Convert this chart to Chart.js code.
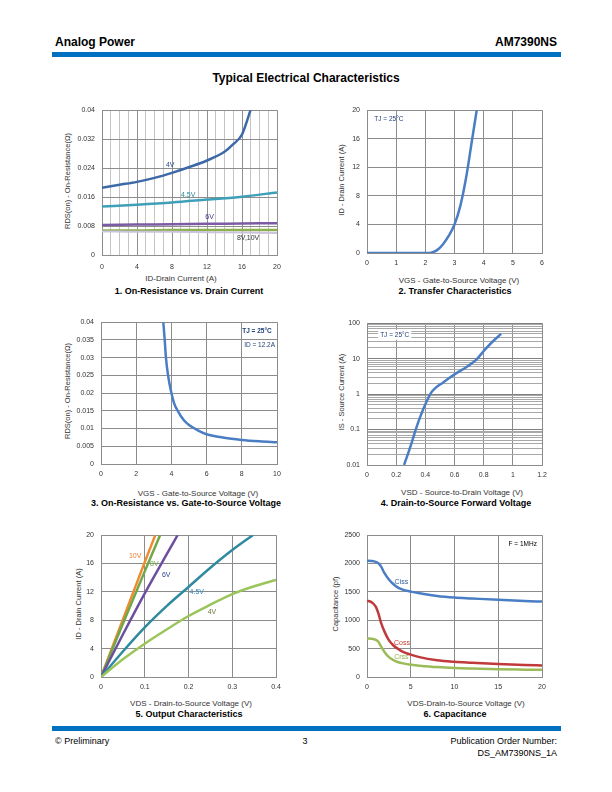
<!DOCTYPE html>
<html>
<head>
<meta charset="utf-8">
<script src="https://cdn.jsdelivr.net/npm/chart.js@4.4.0/dist/chart.umd.min.js"></script>
<style>
  body { margin:0; width:612px; height:792px; position:relative; background:#fff; font-family:"Liberation Sans", Arial, sans-serif; color:#000; overflow:hidden; }
  .t { position:absolute; white-space:nowrap; transform:translate(-50%,-50%); }
  .l { position:absolute; white-space:nowrap; transform:translate(0,-50%); }
  .r { position:absolute; white-space:nowrap; transform:translate(-100%,-50%); }
  .v { position:absolute; white-space:nowrap; transform:translate(-50%,-50%) rotate(-90deg); font-size:7.5px; color:#333; }
  .ax { font-size:8px; color:#333; }
  .cap { font-size:9px; font-weight:bold; }
  .bar { position:absolute; background:#0070c0; }
  canvas { position:absolute; }
</style>
</head>
<body>
<div class="l" style="left:55px;top:42px;font-size:12px;font-weight:bold">Analog Power</div>
<div class="r" style="left:557px;top:42px;font-size:12px;font-weight:bold">AM7390NS</div>
<div class="bar" style="left:52px;top:52px;width:509px;height:5px"></div>
<div class="t" style="left:306px;top:78px;font-size:12px;font-weight:bold">Typical Electrical Characteristics</div>

<div class="v" style="left:67px;top:181px">RDS(on) - On-Resistance(Ω)</div>
<div class="t ax" style="left:181px;top:278px">ID-Drain Current (A)</div>
<div class="t cap" style="left:189px;top:291px">1. On-Resistance vs. Drain Current</div>

<div class="v" style="left:341px;top:180px">ID - Drain Current (A)</div>
<div class="t ax" style="left:459px;top:280px">VGS - Gate-to-Source Voltage (V)</div>
<div class="t cap" style="left:455px;top:291px">2. Transfer Characteristics</div>

<div class="v" style="left:67px;top:391px">RDS(on) - On-Resistance(Ω)</div>
<div class="t ax" style="left:198px;top:493px">VGS - Gate-to-Source Voltage (V)</div>
<div class="t cap" style="left:186px;top:503px">3. On-Resistance vs. Gate-to-Source Voltage</div>

<div class="v" style="left:341px;top:392px">IS - Source Current (A)</div>
<div class="t ax" style="left:462px;top:492px">VSD - Source-to-Drain Voltage (V)</div>
<div class="t cap" style="left:456px;top:503px">4. Drain-to-Source Forward Voltage</div>

<div class="v" style="left:78px;top:604px">ID - Drain Current (A)</div>
<div class="t ax" style="left:191px;top:703px">VDS - Drain-to-Source Voltage (V)</div>
<div class="t cap" style="left:189px;top:714px">5. Output Characteristics</div>

<div class="v" style="left:335px;top:604px">Capacitance (pf)</div>
<div class="t ax" style="left:466px;top:703px">VDS-Drain-to-Source Voltage (V)</div>
<div class="t cap" style="left:455px;top:714px">6. Capacitance</div>

<div class="bar" style="left:52px;top:726px;width:509px;height:5px"></div>
<div class="l" style="left:55px;top:741px;font-size:9px">© Preliminary</div>
<div class="t" style="left:305px;top:741px;font-size:9px">3</div>
<div class="r" style="left:557px;top:741px;font-size:9px">Publication Order Number:</div>
<div class="r" style="left:557px;top:753px;font-size:9px">DS_AM7390NS_1A</div>

<script>
// 1. On-resistance vs drain current
const id1 = [0, 2, 4, 6, 8, 10, 12, 14, 15, 16, 17];
const rds4V = [0.0186, 0.0194, 0.0202, 0.0213, 0.0227, 0.0243, 0.0261, 0.0285, 0.0306, 0.0333, 0.0402];
const id1b = [0, 4, 8, 12, 16, 20];
const rds45V = [0.0134, 0.0139, 0.0145, 0.0153, 0.0161, 0.0173];
const rds6V = [0.0083, 0.0084, 0.0085, 0.0086, 0.0087, 0.0088];
const rds8V = [0.0068, 0.0068, 0.0069, 0.0069, 0.0069, 0.0069];
const rds10V = [0.0065, 0.0064, 0.0064, 0.0063, 0.0062, 0.0061];

// 2. Transfer characteristics
const vgs2 = [0, 1, 2, 2.2, 2.4, 2.6, 2.8, 3.0, 3.2, 3.4, 3.6, 3.8];
const id2 = [0, 0, 0, 0.05, 0.4, 1.2, 2.4, 4.0, 6.6, 10.6, 15.8, 21];

// 3. On-resistance vs gate-to-source voltage
const vgs3 = [3.54, 3.62, 3.69, 3.81, 3.98, 4.15, 4.36, 4.7, 5.0, 5.5, 6, 7, 8, 9, 10];
const rds3 = [0.040, 0.035, 0.030, 0.025, 0.0205, 0.0172, 0.0150, 0.0124, 0.0110, 0.0095, 0.0084, 0.0074, 0.0068, 0.0064, 0.0061];

// 4. Forward voltage
const vsd4 = [0.254, 0.3, 0.334, 0.37, 0.407, 0.44, 0.47, 0.52, 0.6, 0.69, 0.75, 0.807, 0.86, 0.92];
const is4 = [0.01, 0.035, 0.1, 0.26, 0.6, 1.1, 1.5, 2.1, 3.6, 6.1, 9.4, 17.6, 30, 50];
const decades = [0.01, 0.1, 1, 10];
const logTicks = decades.flatMap(d => [1, 2, 3, 4, 5, 6, 7, 8, 9].map(k => +(d * k).toPrecision(2))).concat([100]);

// 5. Output characteristics
const vds10V = [0, 0.05, 0.1, 0.124], out10V = [0, 8.1, 16.2, 20];
const vds8V = [0, 0.05, 0.1, 0.135], out8V = [0, 7.5, 14.9, 20];
const vds6V = [0, 0.05, 0.1, 0.15, 0.175], out6V = [0, 6.0, 11.8, 17.3, 20];
const vds45V = [0, 0.05, 0.1, 0.15, 0.2, 0.25, 0.3, 0.347], out45V = [0, 3.6, 7.0, 10.0, 12.7, 15.4, 17.9, 20];
const vds4V = [0, 0.05, 0.1, 0.15, 0.2, 0.25, 0.3, 0.35, 0.4], out4V = [0, 2.5, 4.7, 6.7, 8.6, 10.2, 11.7, 12.8, 13.7];

// 6. Capacitance
const vds6 = [0, 0.5, 1, 1.3, 1.6, 2, 2.5, 3, 3.5, 4, 5, 6, 8, 10, 12, 15, 18, 20];
const ciss = [2050, 2045, 2030, 2005, 1950, 1830, 1720, 1640, 1580, 1545, 1505, 1475, 1430, 1402, 1385, 1360, 1340, 1330];
const coss = [1345, 1320, 1240, 1120, 960, 800, 650, 560, 500, 450, 395, 350, 295, 268, 252, 230, 212, 203];
const crss = [680, 675, 655, 620, 540, 440, 350, 300, 265, 245, 215, 200, 175, 158, 148, 137, 130, 126];

const FAM = '"Liberation Sans", Arial, sans-serif';
const GRID = '#8c8c8c';

Chart.register({
  id: 'notes',
  afterDatasetsDraw(chart, args, opts) {
    const c = chart.ctx;
    (opts.items || []).forEach(n => {
      const px = chart.scales.x.getPixelForValue(n.x);
      const py = chart.scales.y.getPixelForValue(n.y);
      c.save();
      c.font = (n.bold ? 'bold ' : '') + (n.size || 7) + 'px ' + FAM;
      c.textAlign = 'center';
      c.textBaseline = 'middle';
      if (n.bg) {
        const w = c.measureText(n.text).width;
        c.fillStyle = '#fff';
        c.fillRect(px - w / 2 - 2, py - 5, w + 4, 10);
      }
      c.fillStyle = n.color;
      c.fillText(n.text, px, py);
      c.restore();
    });
  }
});

function series(xs, ys, color, w) {
  return {
    data: xs.map((x, i) => ({ x: x, y: ys[i] })),
    borderColor: color, borderWidth: w || 2.5, pointRadius: 0,
    fill: false, cubicInterpolationMode: 'monotone'
  };
}

function axis(min, max, step, fmt, grid, pad) {
  return {
    type: 'linear', min: min, max: max,
    ticks: { stepSize: step, autoSkip: false, maxRotation: 0, padding: pad, color: '#333',
             font: { size: 7, family: FAM }, callback: fmt },
    grid: { color: grid || GRID, drawTicks: false },
    border: { color: GRID }
  };
}

function makeChart(plot, datasets, xs, ys, notes) {
  const [l, t, r, b] = plot;
  const padL = 45, padT = 8, padR = 14, padB = 18;
  const cv = document.createElement('canvas');
  const w = r - l + padL + padR, h = b - t + padT + padB;
  cv.width = w; cv.height = h;
  cv.style.left = (l - padL) + 'px'; cv.style.top = (t - padT) + 'px';
  cv.style.width = w + 'px'; cv.style.height = h + 'px';
  document.body.appendChild(cv);
  xs.afterFit = s => { s.height = padB; };
  ys.afterFit = s => { s.width = padL; };
  new Chart(cv, {
    type: 'line',
    data: { datasets: datasets },
    options: {
      responsive: false, animation: false, devicePixelRatio: 1,
      layout: { padding: { top: padT, right: padR, left: 0, bottom: 0 } },
      scales: { x: xs, y: ys },
      plugins: { legend: { display: false }, tooltip: { enabled: false }, notes: { items: notes || [] } }
    }
  });
}

const num = d => v => +v.toFixed(d);

// Chart 1
makeChart([102, 107, 277, 255], [
  series(id1b, rds10V, '#cbc3dc', 2),
  series(id1b, rds8V, '#8db04f', 2.5),
  series(id1b, rds6V, '#7b5ba3', 2.5),
  series(id1b, rds45V, '#3ea0b8', 2.5),
  series(id1, rds4V, '#3d69a8', 2.5)
],
  axis(0, 20, 1, v => v % 4 === 0 ? v : '', c => c.tick.value % 4 === 0 ? '#909090' : '#c4c4c4', 8),
  axis(0, 0.04, 0.008, num(3), null, 7),
  [
    { text: '4V', x: 7.8, y: 0.0249, color: '#2a4d8a' },
    { text: '4.5V', x: 9.85, y: 0.0165, color: '#2a8aa0' },
    { text: '6V', x: 12.3, y: 0.0104, color: '#4a3090' },
    { text: '8V,10V', x: 16.7, y: 0.0046, color: '#333' }
  ]);

// Chart 2
makeChart([367, 107, 542, 253], [series(vgs2, id2, '#4a7ec4', 2.5)],
  axis(0, 6, 1, num(0), null, 6),
  axis(0, 20, 4, num(0), null, 7),
  [{ text: 'TJ = 25°C', x: 0.75, y: 18.7, color: '#1f3f77', size: 6.5 }]);

// Chart 3
makeChart([101, 319, 277, 464], [series(vgs3, rds3, '#4a7ec4', 2.5)],
  axis(0, 10, 2, num(0), null, 6),
  axis(0, 0.04, 0.005, num(3), null, 7),
  [
    { text: 'TJ = 25°C', x: 8.86, y: 0.0374, color: '#1f3f77', size: 6.5, bold: true },
    { text: 'ID = 12.2A', x: 9.01, y: 0.0336, color: '#1f3f77', size: 6.5 }
  ]);

// Chart 4
const y4 = {
  type: 'logarithmic', min: 0.01, max: 100,
  afterBuildTicks: s => { s.ticks = logTicks.map(v => ({ value: v })); },
  ticks: { autoSkip: false, padding: 7, color: '#333', font: { size: 7, family: FAM },
           callback: v => decades.concat([100]).includes(v) ? String(v) : '' },
  grid: { drawTicks: false, color: c => decades.concat([100]).includes(c.tick.value) ? '#808080' : '#a8a8a8' },
  border: { color: GRID }
};
makeChart([367, 320, 542, 465], [series(vsd4, is4, '#4a7ec4', 2.5)],
  axis(0, 1.2, 0.2, num(1), null, 6), y4,
  [{ text: 'TJ = 25°C', x: 0.19, y: 47, color: '#1f3f77', size: 6.5, bg: true }]);

// Chart 5
makeChart([101, 532, 276, 677], [
  series(vds4V, out4V, '#9bc45a', 2.5),
  series(vds45V, out45V, '#2f8aa0', 2.5),
  series(vds6V, out6V, '#6c4fa0', 2.5),
  series(vds8V, out8V, '#6fa84a', 2.5),
  series(vds10V, out10V, '#f08a30', 2.5)
],
  axis(0, 0.4, 0.1, num(1), null, 6),
  axis(0, 20, 4, num(0), null, 7),
  [
    { text: '10V', x: 0.078, y: 17.0, color: '#e97e2e' },
    { text: '8V', x: 0.122, y: 15.9, color: '#6ba84b' },
    { text: '6V', x: 0.149, y: 14.4, color: '#2b3e8a' },
    { text: '4.5V', x: 0.219, y: 12.0, color: '#2e86c1' },
    { text: '4V', x: 0.2535, y: 9.15, color: '#6b7a3a' }
  ]);

// Chart 6
makeChart([367, 532, 542, 677], [
  series(vds6, crss, '#9bbb59', 2.5),
  series(vds6, coss, '#c0393b', 2.5),
  series(vds6, ciss, '#4a7ec4', 2.5)
],
  axis(0, 20, 5, num(0), null, 6),
  axis(0, 2500, 500, num(0), null, 7),
  [
    { text: 'F = 1MHz', x: 17.8, y: 2345, color: '#000', size: 6.5 },
    { text: 'Ciss', x: 3.93, y: 1671, color: '#2e5c9e' },
    { text: 'Coss', x: 4.0, y: 594, color: '#c0392b' },
    { text: 'Crss', x: 3.93, y: 348, color: '#8db04a' }
  ]);
</script>
</body>
</html>
